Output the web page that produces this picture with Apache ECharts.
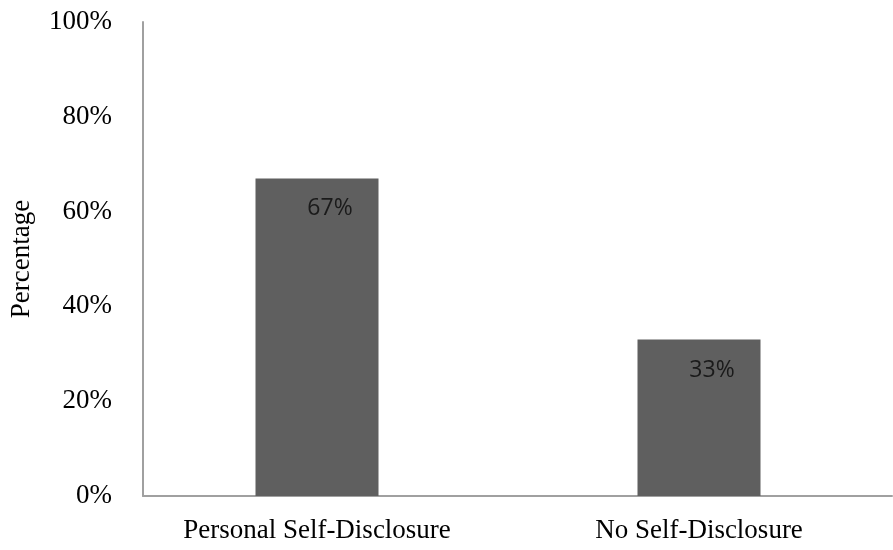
<!DOCTYPE html>
<html>
<head>
<meta charset="utf-8">
<script src="https://cdn.jsdelivr.net/npm/echarts@6/dist/echarts.min.js"></script>
<style>
  html, body { margin: 0; padding: 0; background: #fff; }
  #chart { width: 893px; height: 550px; }
</style>
</head>
<body>
<div id="chart"></div>
<script>
// data
var categories = ['Personal Self-Disclosure', 'No Self-Disclosure'];
var percentages = [67, 33];
var yTicks = [0, 20, 40, 60, 80, 100];

var serif = '"Liberation Serif", "Times New Roman", serif';

var myChart = echarts.init(document.getElementById('chart'));
window.addEventListener('resize', function () { myChart.resize(); }, false);

var option = {
    animation: false,
    // grid 0 holds the axes frame, grid 1 holds the bars
    grid: [
        { left: 142, right: 1, top: 22, bottom: 54 },
        { left: 126, right: 3, top: 22, bottom: 54 }
    ],
    xAxis: [
        {
            gridIndex: 0,
            type: 'category',
            data: categories,
            axisLine: { lineStyle: { color: '#a0a0a0', width: 2 } },
            axisTick: { show: false },
            axisLabel: { show: false }
        },
        {
            gridIndex: 1,
            type: 'category',
            data: categories,
            axisLine: { show: false },
            axisTick: { show: false },
            axisLabel: {
                margin: 21,
                fontFamily: serif,
                fontSize: 27,
                color: '#000'
            }
        }
    ],
    yAxis: [
        {
            gridIndex: 0,
            type: 'value',
            min: yTicks[0],
            max: yTicks[yTicks.length - 1],
            interval: 20,
            name: 'Percentage',
            nameLocation: 'middle',
            nameGap: 108,
            nameTextStyle: { fontFamily: serif, fontSize: 27, color: '#000' },
            axisLine: { show: true, lineStyle: { color: '#a0a0a0', width: 2 } },
            axisTick: { show: false },
            splitLine: { show: false },
            axisLabel: {
                margin: 31,
                fontFamily: serif,
                fontSize: 27,
                color: '#000',
                formatter: '{value}%'
            }
        },
        {
            gridIndex: 1,
            type: 'value',
            min: yTicks[0],
            max: yTicks[yTicks.length - 1],
            show: false
        }
    ],
    series: [
        {
            type: 'bar',
            xAxisIndex: 1,
            yAxisIndex: 1,
            data: percentages,
            barWidth: 123,
            itemStyle: { color: '#5f5f5f' },
            label: {
                show: true,
                position: 'insideTop',
                distance: 19,
                offset: [13, 0],
                fontFamily: '"Open Sans", "Noto Sans", sans-serif',
                fontSize: 23,
                color: '#1a1a1a',
                formatter: '{c}%'
            }
        }
    ]
};
myChart.setOption(option);
</script>
</body>
</html>
